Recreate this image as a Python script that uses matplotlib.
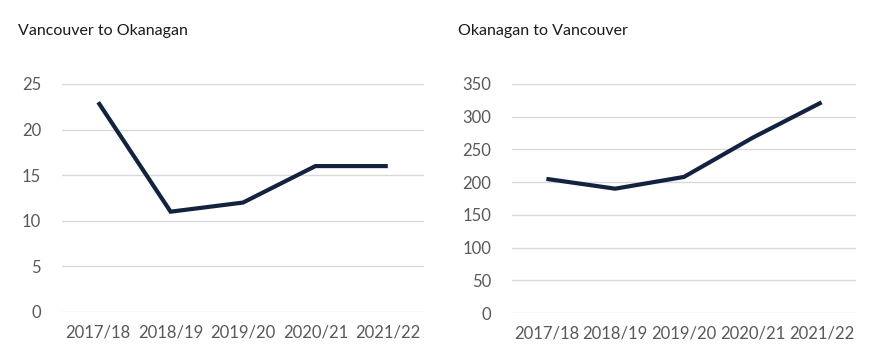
import matplotlib.pyplot as plt

plt.rcParams['font.family'] = ['Lato', 'DejaVu Sans']

years = ["2017/18", "2018/19", "2019/20", "2020/21", "2021/22"]
van_to_oka = [23, 11, 12, 16, 16]
oka_to_van = [205, 190, 208, 268, 322]

line_color = '#13223f'
grid_color = '#d9d9d9'
tick_color = '#595959'

fig = plt.figure(figsize=(8.74, 3.56), dpi=100)
ax1 = fig.add_axes([62/874, 44/356, 362/874, 228/356])
ax2 = fig.add_axes([512/874, 43/356, 344/874, 229/356])


def style(ax, values, yticks, title, title_x):
    x = list(range(len(years)))
    ax.plot(x, values, color=line_color, lw=3, solid_capstyle='butt',
            solid_joinstyle='miter', clip_on=False, zorder=3)
    ax.set_xlim(-0.5, len(years) - 0.5)
    ax.set_ylim(yticks[0], yticks[-1])
    ax.set_yticks(yticks)
    ax.set_xticks(x)
    ax.set_xticklabels(years)
    ax.grid(axis='y', color=grid_color, lw=1)
    ax.set_axisbelow(True)
    for s in ax.spines.values():
        s.set_visible(False)
    ax.tick_params(length=0, colors=tick_color, labelsize=12)
    ax.tick_params(axis='y', pad=15)
    ax.tick_params(axis='x', pad=9)
    fig.text(title_x, 1 - 31/356, title, fontsize=11.5, color='#1a1a1a',
             va='center', ha='left')


style(ax1, van_to_oka, [0, 5, 10, 15, 20, 25], "Vancouver to Okanagan", 18/874)
style(ax2, oka_to_van, [0, 50, 100, 150, 200, 250, 300, 350],
      "Okanagan to Vancouver", 458/874)

fig.savefig('out.png', dpi=100, facecolor='white')
